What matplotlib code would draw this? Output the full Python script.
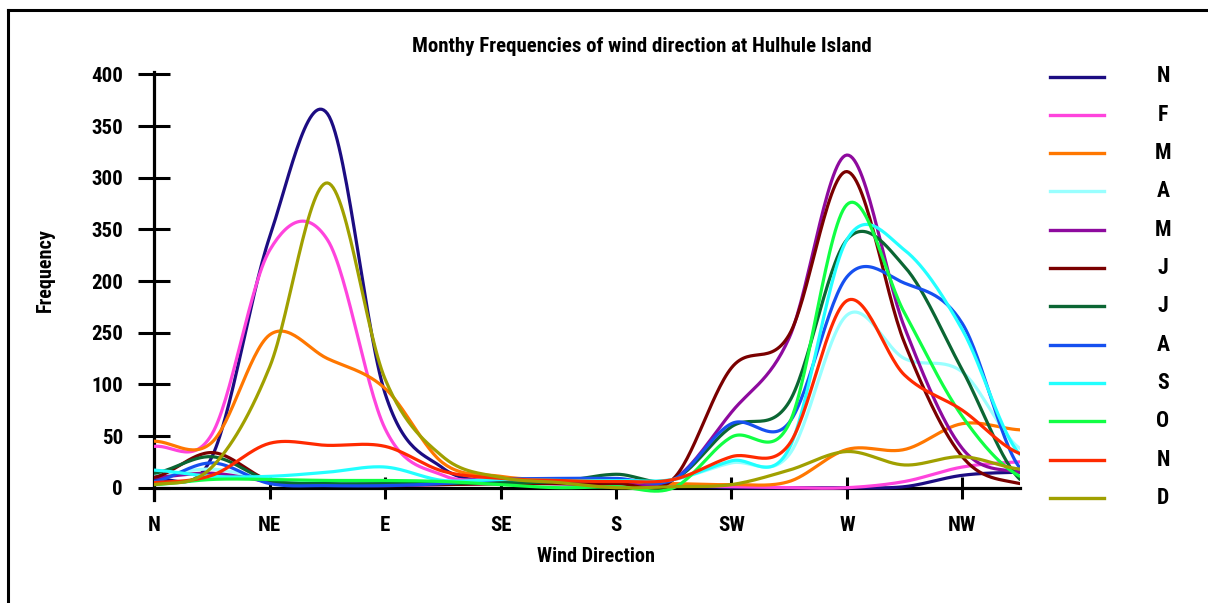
import numpy as np
import matplotlib
matplotlib.use('Agg')
import matplotlib.pyplot as plt
from matplotlib import font_manager
from matplotlib.lines import Line2D


def pick_narrow_bold():
    # look for a condensed/narrow bold face, fall back to DejaVu Sans Bold
    prefs = ['Liberation Sans Narrow', 'DejaVu Sans Condensed', 'Roboto Condensed',
             'Open Sans Condensed', 'Noto Sans Condensed']
    bold = [f for f in font_manager.fontManager.ttflist
            if f.weight in ('bold', 700, 'heavy', 800, 'black', 900)]
    for p in prefs:
        for f in bold:
            if f.name == p:
                return font_manager.FontProperties(fname=f.fname)
    for f in bold:
        if 'Narrow' in f.name or 'Condensed' in f.name or 'condensed' in str(f.stretch):
            return font_manager.FontProperties(fname=f.fname)
    return font_manager.FontProperties(family='DejaVu Sans', weight='bold')


# 16 compass points, only the main 8 are labelled
directions = ['N', 'NNE', 'NE', 'ENE', 'E', 'ESE', 'SE', 'SSE',
              'S', 'SSW', 'SW', 'WSW', 'W', 'WNW', 'NW', 'NNW']
tick_names = ['N', 'NE', 'E', 'SE', 'S', 'SW', 'W', 'NW']
ytick_vals = [0, 50, 100, 150, 200, 250, 300, 350, 400]
ytick_text = ['0', '50', '100', '250', '200', '350', '300', '350', '400']

month_labels = ['N', 'F', 'M', 'A', 'M', 'J', 'J', 'A', 'S', 'O', 'N', 'D']

jan = [8, 30, 243, 362, 91, 19, 6, 4, 3, 2, 0, 0, 0, 1, 12, 15]
feb = [40, 52, 230, 240, 57, 12, 8, 5, 3, 2, 1, 0, 0, 6, 20, 25]
mar = [45, 44, 148, 125, 96, 24, 11, 7, 5, 4, 3, 6, 37, 37, 62, 56]
apr = [12, 18, 8, 5, 5, 5, 6, 6, 6, 8, 24, 32, 167, 125, 112, 38]
may = [10, 14, 6, 3, 2, 3, 4, 4, 4, 8, 73, 145, 322, 155, 38, 15]
jun = [10, 34, 7, 3, 3, 3, 4, 4, 4, 9, 116, 148, 306, 140, 30, 4]
jul = [14, 30, 7, 4, 4, 4, 5, 6, 13, 8, 59, 83, 240, 214, 114, 8]
aug = [6, 24, 4, 2, 2, 4, 8, 9, 9, 8, 62, 63, 204, 198, 159, 19]
sep = [17, 11, 11, 15, 20, 7, 8, 7, 7, 8, 26, 38, 240, 230, 153, 32]
oct_ = [3, 8, 8, 7, 7, 6, 3, 0, 1, 0, 49, 62, 274, 169, 69, 11]
nov = [5, 12, 43, 41, 40, 16, 9, 7, 6, 8, 30, 42, 181, 109, 75, 33]
dec = [3, 20, 117, 295, 105, 30, 10, 5, 0, 1, 3, 17, 35, 22, 30, 18]

series = [jan, feb, mar, apr, may, jun, jul, aug, sep, oct_, nov, dec]
colors = ['#1c0c82', '#ff44dd', '#ff7700', '#99ffff', '#8e0a9e', '#7a0000',
          '#0b6633', '#1650f0', '#22ffff', '#11ff44', '#ff2a00', '#a0a000']


def smooth(vals, steps=30):
    # Catmull-Rom spline through every point (like a "smoothed line" chart)
    p = np.asarray(vals, dtype=float)
    ext = np.concatenate([[p[0]], p, [p[-1]]])
    xs, ys = [], []
    t = np.linspace(0, 1, steps, endpoint=False)
    h00 = 2 * t**3 - 3 * t**2 + 1
    h10 = t**3 - 2 * t**2 + t
    h01 = -2 * t**3 + 3 * t**2
    h11 = t**3 - t**2
    for i in range(len(p) - 1):
        m0 = (ext[i + 2] - ext[i]) / 2
        m1 = (ext[i + 3] - ext[i + 1]) / 2
        xs.append(i + t)
        ys.append(h00 * p[i] + h10 * m0 + h01 * p[i + 1] + h11 * m1)
    xs.append([len(p) - 1])
    ys.append([p[-1]])
    return np.concatenate(xs), np.concatenate(ys)


W, H = 1208, 603
fig = plt.figure(figsize=(W / 100, H / 100), dpi=100)
fp = pick_narrow_bold()

# scale all text so the title spans ~460 px
title = 'Monthy Frequencies of wind direction at Hulhule Island'
probe = fig.text(0, 0, title, fontproperties=fp, fontsize=12.5)
fig.canvas.draw()
tw = probe.get_window_extent().width
probe.remove()
k = 462.0 / tw


def fprop(size):
    f = fp.copy()
    f.set_size(size * k)
    return f


ax = fig.add_axes([154.3 / W, 1 - 500.1 / H, 865.7 / W, 427.7 / H])

for vals, c in zip(series, colors):
    sx, sy = smooth(vals)
    ax.plot(sx, sy, color=c, lw=2.3, solid_capstyle='round', zorder=3)

ax.set_xlim(0, 15)
ax.set_ylim(-12, 402)
for s in ['top', 'right']:
    ax.spines[s].set_visible(False)
ax.spines['bottom'].set_position(('data', 0))
ax.spines['bottom'].set_linewidth(2.3)
ax.spines['left'].set_linewidth(2.3)
ax.spines['bottom'].set_zorder(2.5)

ax.set_xticks(np.arange(0, 16, 2))
ax.set_xticklabels(tick_names, fontproperties=fprop(12.5))
ax.set_yticks(ytick_vals)
ax.set_yticklabels(ytick_text, fontproperties=fprop(12.5))
ax.tick_params(axis='x', direction='inout', length=16.5, width=2.2, pad=12)
ax.tick_params(axis='y', direction='inout', length=23, width=2.2, pad=11)
ax.patch.set_visible(False)

fig.text(641.7 / W, 1 - 47 / H, title, ha='center', va='center',
         fontproperties=fprop(12.5))
fig.text(596 / W, 1 - 557 / H, 'Wind Direction', ha='center', va='center',
         fontproperties=fprop(12))
fig.text(45 / W, 1 - 270 / H, 'Frequency', ha='center', va='center',
         rotation=90, fontproperties=fprop(12))

# legend on the right
for i, (lab, c) in enumerate(zip(month_labels, colors)):
    y = 1 - (76.5 + i * 38.3) / H
    fig.add_artist(Line2D([1050 / W, 1104 / W], [y, y], color=c, lw=2.4,
                          transform=fig.transFigure))
    fig.text(1163 / W, y, lab, ha='center', va='center', fontproperties=fprop(13))

# frame around the picture (top and left edges)
fig.add_artist(Line2D([8 / W, 8 / W], [0, 1 - 10 / H], color='black', lw=2.2,
                      transform=fig.transFigure))
fig.add_artist(Line2D([8 / W, 1], [1 - 10 / H, 1 - 10 / H], color='black', lw=2.2,
                      transform=fig.transFigure))

fig.savefig('out.png', dpi=100, facecolor='white')
